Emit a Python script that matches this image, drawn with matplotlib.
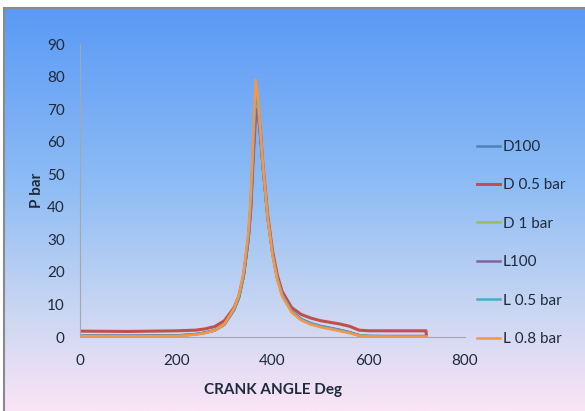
import matplotlib
matplotlib.use("Agg")
import matplotlib.pyplot as plt
import matplotlib.patches as mpatches
import numpy as np
from matplotlib.colors import LinearSegmentedColormap

plt.rcParams["font.family"] = ["Lato", "DejaVu Sans"]

# ---------------------------------------------------------------------------
# Data
# ---------------------------------------------------------------------------
ANGLE = [0, 100, 200, 240, 260, 280, 300, 320, 330, 340, 350, 355, 360, 365,
         370, 375, 380, 390, 400, 410, 420, 440, 460, 480, 500, 520, 540, 560,
         580, 600, 650, 700, 719, 720]

D100 = [0.4, 0.3, 0.4, 0.8, 1.3, 2.0, 3.8, 8.2, 11.8, 18.5, 30.0, 40.0, 57.0,
        71.0, 69.0, 61.0, 52.0, 36.5, 25.5, 18.0, 13.0, 7.8, 5.4, 4.1, 3.3,
        2.7, 2.1, 1.4, 0.5, 0.3, 0.2, 0.2, 0.2, 0.2]
D05 = [1.8, 1.7, 1.9, 2.1, 2.5, 3.2, 5.0, 9.0, 12.5, 19.0, 30.5, 39.5, 55.0,
       68.5, 70.0, 63.0, 53.0, 37.5, 26.5, 19.0, 14.0, 9.0, 6.9, 5.8, 5.0,
       4.5, 4.0, 3.3, 2.1, 1.9, 1.9, 1.9, 1.9, 0.0]
D1 = [0.3, 0.2, 0.4, 0.8, 1.3, 2.0, 3.8, 8.3, 12.0, 18.8, 30.5, 41.0, 58.0,
      73.0, 70.5, 62.0, 52.5, 36.5, 25.5, 18.0, 13.0, 7.8, 5.3, 4.0, 3.2,
      2.6, 2.0, 1.3, 0.4, 0.2, 0.2, 0.2, 0.2, 0.2]
L100 = [0.5, 0.4, 0.5, 0.9, 1.4, 2.1, 3.9, 8.4, 12.0, 18.8, 30.0, 39.5, 56.0,
        70.0, 68.5, 61.0, 52.0, 36.5, 25.5, 18.0, 13.0, 7.9, 5.5, 4.2, 3.4,
        2.8, 2.2, 1.5, 0.6, 0.3, 0.3, 0.3, 0.3, 0.3]
L05 = [0.4, 0.3, 0.4, 0.8, 1.3, 2.0, 3.9, 8.4, 12.2, 19.0, 31.0, 42.0, 59.0,
       75.0, 71.0, 62.0, 52.5, 36.5, 25.5, 18.0, 13.0, 7.8, 5.4, 4.1, 3.3,
       2.7, 2.1, 1.4, 0.5, 0.3, 0.2, 0.2, 0.2, 0.2]
L08 = [0.3, 0.2, 0.3, 0.7, 1.2, 2.0, 4.0, 8.8, 12.8, 20.0, 32.5, 44.0, 62.0,
       79.0, 73.0, 63.0, 53.0, 36.5, 25.0, 17.5, 12.5, 7.5, 5.1, 3.8, 3.0,
       2.4, 1.8, 1.2, 0.4, 0.2, 0.1, 0.1, 0.1, 0.1]

SERIES = [
    ("D100", D100, "#4F81BD"),
    ("D 0.5 bar", D05, "#C0504D"),
    ("D 1 bar", D1, "#9BBB59"),
    ("L100", L100, "#8064A2"),
    ("L 0.5 bar", L05, "#4BACC6"),
    ("L 0.8 bar", L08, "#F79646"),
]

X_TICKS = [0, 200, 400, 600, 800]
Y_TICKS = [0, 10, 20, 30, 40, 50, 60, 70, 80, 90]

TEXT_COLOR = "#1f2a3c"

# ---------------------------------------------------------------------------
# Figure with Excel-like gradient chart area
# ---------------------------------------------------------------------------
fig = plt.figure(figsize=(5.85, 4.11), dpi=100)
fig.patch.set_facecolor("white")

bg = fig.add_axes([4 / 585, 0, 1 - 4 / 585, 1 - 8 / 411])
cmap = LinearSegmentedColormap.from_list(
    "chartbg",
    [(0.0, "#5a99f6"), (0.45, "#8fbdf4"), (0.75, "#c9d6f2"), (1.0, "#fbe4f6")],
)
grad = np.linspace(0, 1, 256).reshape(-1, 1)
bg.imshow(grad, cmap=cmap, aspect="auto", extent=[0, 1, 0, 1], origin="upper")
bg.set_xlim(0, 1)
bg.set_ylim(0, 1)
bg.axis("off")
fig.add_artist(mpatches.Rectangle((4 / 585, -0.01), 1.0, 1 - 8 / 411 + 0.01,
                                  transform=fig.transFigure, fill=False,
                                  edgecolor="#8a8a8a", linewidth=1.5))

ax = fig.add_axes([80 / 585, 74 / 411, 385 / 585, 293 / 411])
ax.patch.set_alpha(0)

for label, values, color in SERIES:
    lw = 2.2 if label == "D 0.5 bar" else 1.8
    ax.plot(ANGLE, values, color=color, linewidth=lw, label=label,
            solid_joinstyle="round")

ax.set_xlim(0, 800)
ax.set_ylim(0, 90)
ax.set_xticks(X_TICKS)
ax.set_yticks(Y_TICKS)
ax.tick_params(length=0, labelsize=11, colors=TEXT_COLOR, pad=11)
ax.tick_params(axis="x", pad=12)
for side in ("top", "right"):
    ax.spines[side].set_visible(False)
for side in ("left", "bottom"):
    ax.spines[side].set_color("#a3a8b0")
    ax.spines[side].set_linewidth(0.8)

ax.set_xlabel("CRANK ANGLE Deg", fontsize=11, fontweight="bold",
              color=TEXT_COLOR, labelpad=11)
ax.set_ylabel("P bar", fontsize=11, fontweight="bold",
              color=TEXT_COLOR, labelpad=2)

leg = ax.legend(loc="center left", bbox_to_anchor=(477 / 585, 168 / 411),
                bbox_transform=fig.transFigure, frameon=False, fontsize=11,
                labelspacing=1.6, handlelength=1.5, handletextpad=0.2,
                borderpad=0, borderaxespad=0)
for t in leg.get_texts():
    t.set_color(TEXT_COLOR)

fig.savefig("out.png", dpi=100)
